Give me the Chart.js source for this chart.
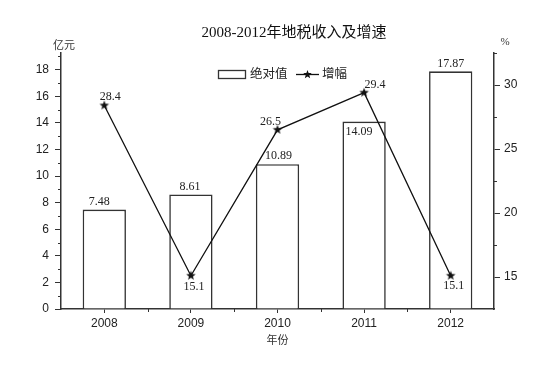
<!DOCTYPE html>
<html><head><meta charset="utf-8">
<script src="https://cdn.jsdelivr.net/npm/chart.js@4"></script>
<style>html,body{margin:0;padding:0;background:#fff}#wrap{width:554px;height:374px}</style>
</head><body><div id="wrap"><canvas id="c" width="554" height="374"></canvas></div>
<script>
const chartTitle = '2008-2012年地税收入及增速';
const years = ['2008', '2009', '2010', '2011', '2012'];
const absValues = [7.48, 8.61, 10.89, 14.09, 17.87];
const growthRates = [28.4, 15.1, 26.5, 29.4, 15.1];
const leftTicks = [0, 2, 4, 6, 8, 10, 12, 14, 16, 18];
const leftMinorTicks = [1, 3, 5, 7, 9, 11, 13, 15, 17, 19];
const rightTicks = [15, 20, 25, 30];
const rightMinorTicks = [17.5, 22.5, 27.5, 32.5];
const seriesNames = ['绝对值', '增幅'];
const leftUnit = '亿元';
const rightUnit = '%';
const xTitle = '年份';

const SERIF = '"Liberation Serif", "Noto Sans CJK SC", serif';
const SANS = '"Liberation Sans", Arial, sans-serif';
const INK = '#222';

// filled five-point star marker
function makeStar(r) {
  const s = Math.ceil(r * 2 + 2);
  const cv = document.createElement('canvas');
  cv.width = s; cv.height = s;
  const g = cv.getContext('2d');
  g.fillStyle = '#111';
  g.beginPath();
  for (let i = 0; i < 10; i++) {
    const rad = i % 2 === 0 ? r : r * 0.42;
    const a = -Math.PI / 2 + i * Math.PI / 5;
    const x = s / 2 + rad * Math.cos(a), y = s / 2 + rad * Math.sin(a);
    if (i === 0) g.moveTo(x, y); else g.lineTo(x, y);
  }
  g.closePath();
  g.fill();
  return cv;
}
const star = makeStar(5);

const decor = {
  id: 'decor',
  afterDatasetsDraw(chart, args, opts) {
    const ctx = chart.ctx;
    ctx.save();
    ctx.fillStyle = INK;
    ctx.font = '12px ' + SERIF;
    ctx.textAlign = 'center';
    ctx.textBaseline = 'middle';
    const barMeta = chart.getDatasetMeta(0);
    barMeta.data.forEach((el, i) => {
      const txt = String(absValues[i]);
      if (opts.barInside[i]) {
        ctx.textAlign = 'left';
        ctx.fillText(txt, el.x - el.width / 2 + 3, el.y + 10);
        ctx.textAlign = 'center';
      } else {
        ctx.fillText(txt, el.x + opts.barDx[i], el.y - 8);
      }
    });
    const lineMeta = chart.getDatasetMeta(1);
    lineMeta.data.forEach((el, i) => {
      ctx.fillText(String(growthRates[i]), el.x + opts.ptDx[i], el.y + opts.ptDy[i]);
    });
    ctx.restore();
  },
  afterDraw(chart) {
    const ctx = chart.ctx;
    const y = chart.scales.y, y1 = chart.scales.y1, x = chart.scales.x;
    const ca = chart.chartArea;
    ctx.save();
    ctx.strokeStyle = '#333';
    ctx.lineWidth = 1;
    // minor ticks
    leftMinorTicks.forEach(v => {
      const py = Math.round(y.getPixelForValue(v)) + 0.5;
      ctx.beginPath(); ctx.moveTo(ca.left - 3, py); ctx.lineTo(ca.left, py); ctx.stroke();
    });
    rightMinorTicks.forEach(v => {
      const py = Math.round(y1.getPixelForValue(v)) + 0.5;
      ctx.beginPath(); ctx.moveTo(ca.right, py); ctx.lineTo(ca.right + 3, py); ctx.stroke();
    });
    for (let i = 0; i < years.length - 1; i++) {
      const px = Math.round((x.getPixelForValue(i) + x.getPixelForValue(i + 1)) / 2) + 0.5;
      ctx.beginPath(); ctx.moveTo(px, ca.bottom); ctx.lineTo(px, ca.bottom + 3); ctx.stroke();
    }
    // title
    ctx.fillStyle = '#111';
    ctx.textAlign = 'center';
    ctx.textBaseline = 'middle';
    ctx.font = '15px ' + SERIF;
    ctx.fillText(chartTitle, 294, 33);
    // axis titles
    ctx.fillStyle = '#333';
    ctx.font = '11px ' + SERIF;
    ctx.fillText(leftUnit, ca.left + 3, 46);
    ctx.fillText(rightUnit, ca.right + 11, 42);
    ctx.fillText(xTitle, (ca.left + ca.right) / 2, 341);
    // legend
    ctx.lineWidth = 1.3;
    ctx.strokeStyle = '#333';
    ctx.strokeRect(218.5, 70.5, 27, 8);
    ctx.fillStyle = INK;
    ctx.font = '12.5px ' + SERIF;
    ctx.textAlign = 'left';
    ctx.fillText(seriesNames[0], 250, 75);
    ctx.strokeStyle = '#111';
    ctx.beginPath(); ctx.moveTo(296, 74.5); ctx.lineTo(319, 74.5); ctx.stroke();
    ctx.drawImage(makeStar(4.5), 307.5 - 5.5, 74.5 - 5.5);
    ctx.fillText(seriesNames[1], 322, 75);
    ctx.restore();
  }
};

new Chart(document.getElementById('c'), {
  data: {
    labels: years,
    datasets: [
      {
        type: 'bar', label: seriesNames[0], data: absValues, yAxisID: 'y', order: 2,
        backgroundColor: '#fff', borderColor: '#333', borderWidth: 1.6,
        barPercentage: 0.5, categoryPercentage: 1
      },
      {
        type: 'line', label: seriesNames[1], data: growthRates, yAxisID: 'y1', order: 1,
        borderColor: '#111', borderWidth: 1.3, pointStyle: star, tension: 0
      }
    ]
  },
  options: {
    responsive: false, animation: false,
    layout: { padding: { top: 53, left: 0, right: 0, bottom: 0 } },
    plugins: {
      legend: { display: false }, tooltip: { enabled: false }, title: { display: false },
      decor: {
        barDx: [-5, -1, 1, 0, 0],
        barInside: [false, false, false, true, false],
        ptDx: [6, 3, -7, 11, 3],
        ptDy: [-9, 11, -8, -8, 10]
      }
    },
    scales: {
      x: {
        type: 'category', offset: true,
        grid: { display: true, offset: false, drawOnChartArea: false, drawTicks: true, tickLength: 4, color: '#333' },
        border: { display: true, color: '#333', width: 1.5 },
        ticks: { font: { family: SANS, size: 12 }, color: INK, padding: 3, maxRotation: 0 },
        afterFit(s) { s.height = 65; }
      },
      y: {
        type: 'linear', position: 'left', min: 0, max: 19.25,
        afterBuildTicks(s) { s.ticks = leftTicks.map(v => ({ value: v })); },
        grid: { display: true, drawOnChartArea: false, drawTicks: true, tickLength: 6, color: '#333' },
        border: { display: true, color: '#333', width: 1.5 },
        ticks: { font: { family: SANS, size: 12 }, color: INK, padding: 6 },
        afterFit(s) { s.width = 61; }
      },
      y1: {
        type: 'linear', position: 'right', min: 12.5, max: 32.5,
        afterBuildTicks(s) { s.ticks = rightTicks.map(v => ({ value: v })); },
        grid: { display: true, drawOnChartArea: false, drawTicks: true, tickLength: 6, color: '#333' },
        border: { display: true, color: '#333', width: 1.5 },
        ticks: { font: { family: SANS, size: 12 }, color: INK, padding: 4 },
        afterFit(s) { s.width = 60; }
      }
    }
  },
  plugins: [decor]
});
</script>
</body></html>
